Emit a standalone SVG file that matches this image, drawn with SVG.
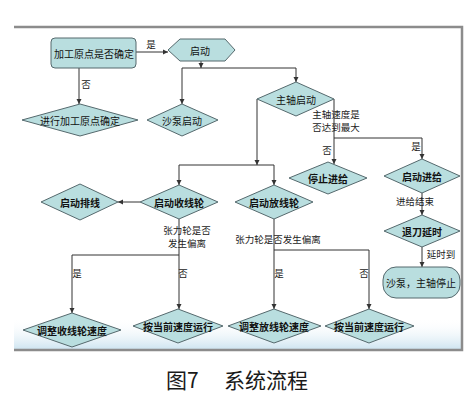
<svg xmlns="http://www.w3.org/2000/svg" width="472" height="414" viewBox="0 0 472 414">
<style>
.n{fill:#b9dedf;stroke:#55696d;stroke-width:1}
.t{font-family:"Noto Sans CJK SC","Noto Sans",sans-serif;font-size:10px;fill:#111;text-anchor:middle;dominant-baseline:central}
.b{font-weight:bold}
.l{font-family:"Noto Sans CJK SC","Noto Sans",sans-serif;font-size:9.5px;fill:#222;text-anchor:middle;dominant-baseline:central}
.c{fill:none;stroke:#333;stroke-width:1}
.f{fill:none;stroke:#8c8c8c;stroke-width:2.5}
.cap{font-family:"Noto Sans CJK SC","Noto Sans",sans-serif;font-size:21px;fill:#1a1a1a}
</style>
<defs>
<marker id="a" markerUnits="userSpaceOnUse" markerWidth="6" markerHeight="6" refX="5" refY="3" orient="auto">
<path d="M0,0.5 L5,3 L0,5.5 z" fill="#333"/>
</marker>
<linearGradient id="g" x1="0" y1="0" x2="0" y2="1">
<stop offset="0" stop-color="#ffffff" stop-opacity="0"/>
<stop offset="1" stop-color="#cfe5f1"/>
</linearGradient>
</defs>
<rect x="0" y="0" width="472" height="414" fill="#fff"/>
<rect x="14" y="318" width="447" height="31" fill="url(#g)"/>
<path class="f" d="M14,27 H462 V350 H14"/>

<g id="connectors">
<path class="c" marker-end="url(#a)" d="M136,52 H168"/>
<path class="c" marker-end="url(#a)" d="M79,68 V104"/>
<path class="c" marker-end="url(#a)" d="M201,61 V68"/>
<path class="c" marker-end="url(#a)" d="M201,68 H182 V104"/>
<path class="c" marker-end="url(#a)" d="M201,68 H296 V82"/>
<path class="c" marker-end="url(#a)" d="M257,99 V165"/>
<path class="c" marker-end="url(#a)" d="M257,165 H179 V185"/>
<path class="c" marker-end="url(#a)" d="M257,165 H274 V185"/>
<path class="c" marker-end="url(#a)" d="M334,99 V164"/>
<path class="c" marker-end="url(#a)" d="M334,138 H422 V159"/>
<path class="c" marker-end="url(#a)" d="M140,202 H118"/>
<path class="c" marker-end="url(#a)" d="M179,219 V255 H72 V313"/>
<path class="c" marker-end="url(#a)" d="M179,255 V309"/>
<path class="c" marker-end="url(#a)" d="M274,219 V250 H369 V309"/>
<path class="c" marker-end="url(#a)" d="M274,250 V309"/>
<path class="c" marker-end="url(#a)" d="M422,193 V215"/>
<path class="c" marker-end="url(#a)" d="M422,247 V267"/>
<text class="l" x="151" y="44">是</text>
<text class="l" x="86" y="84">否</text>
<text class="l" x="336" y="114">主轴速度是</text>
<text class="l" x="336" y="127">否达到最大</text>
<text class="l" x="327" y="150">否</text>
<text class="l" x="416" y="146">是</text>
<text class="l" x="187" y="230">张力轮是否</text>
<text class="l" x="187" y="243">发生偏离</text>
<text class="l" x="278" y="239">张力轮是否发生偏离</text>
<text class="l" x="77" y="273">是</text>
<text class="l" x="183" y="273">否</text>
<text class="l" x="279" y="273">是</text>
<text class="l" x="364" y="273">否</text>
<text class="l" x="415" y="201">进给结束</text>
<text class="l" x="441" y="254">延时到</text>
</g>

<g id="n1"><rect class="n" x="51" y="38" width="85" height="30" rx="4"/><text class="t" x="94" y="53">加工原点是否确定</text></g>
<g id="n2"><polygon class="n" points="168,50 180,39 225,39 235,50 225,61 180,61"/><text class="t" x="200" y="50">启动</text></g>
<g id="n3"><polygon class="n" points="22,120 80,104 138,120 80,136"/><text class="t" x="80" y="120">进行加工原点确定</text></g>
<g id="n4"><polygon class="n" points="147,120 182,104 218,120 182,136"/><text class="t" x="182" y="120">沙泵启动</text></g>
<g id="n5"><polygon class="n" points="257,99 296,82 334,99 296,116"/><text class="t" x="296" y="99">主轴启动</text></g>
<g id="n6"><polygon class="n" points="41,202 80,184 118,202 80,220"/><text class="t b" x="80" y="202">启动排线</text></g>
<g id="n7"><polygon class="n" points="140,202 179,185 218,202 179,219"/><text class="t b" x="179" y="202">启动收线轮</text></g>
<g id="n8"><polygon class="n" points="235,202 274,185 313,202 274,219"/><text class="t b" x="274" y="202">启动放线轮</text></g>
<g id="n9"><polygon class="n" points="289,178 328,162 367,178 328,194"/><text class="t b" x="328" y="178">停止进给</text></g>
<g id="n10"><polygon class="n" points="384,176 422,159 460,176 422,193"/><text class="t b" x="422" y="176">启动进给</text></g>
<g id="n11"><polygon class="n" points="384,231 422,215 460,231 422,247"/><text class="t b" x="422" y="231">退刀延时</text></g>
<g id="n12"><rect class="n" x="383" y="267" width="77" height="31" rx="13"/><text class="t" x="421" y="282">沙泵，主轴停止</text></g>
<g id="n13"><polygon class="n" points="23,330 72,313 121,330 72,347"/><text class="t b" x="72" y="330">调整收线轮速度</text></g>
<g id="n14"><polygon class="n" points="133,326 178,309 223,326 178,343"/><text class="t b" x="178" y="326">按当前速度运行</text></g>
<g id="n15"><polygon class="n" points="228,326 274,309 321,326 274,343"/><text class="t b" x="274" y="326">调整放线轮速度</text></g>
<g id="n16"><polygon class="n" points="325,326 369,309 414,326 369,343"/><text class="t b" x="369" y="326">按当前速度运行</text></g>

<text class="cap" x="166" y="388">图7</text>
<text class="cap" x="224" y="388">系统流程</text>
</svg>
